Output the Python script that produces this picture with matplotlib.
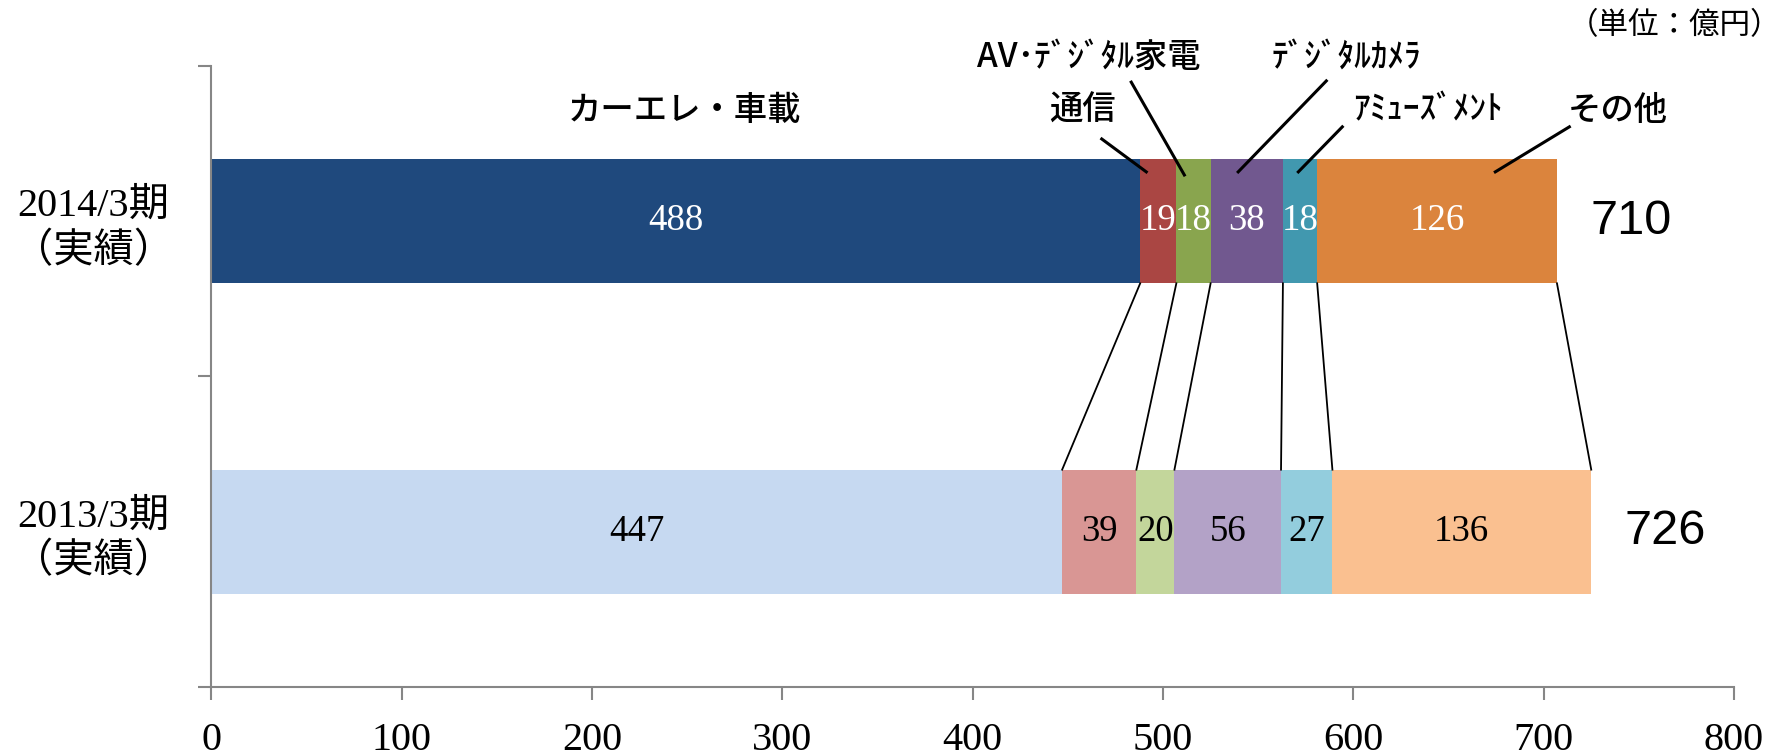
import numpy as np
import matplotlib
matplotlib.use("Agg")
import matplotlib.pyplot as plt

# data (unit: 100 million yen)
periods = ['2013/3期\n（実績）', '2014/3期\n（実績）']
segments = ['カーエレ・車載', '通信', 'AV･ﾃﾞｼﾞﾀﾙ家電', 'ﾃﾞｼﾞﾀﾙｶﾒﾗ', 'ｱﾐｭｰｽﾞﾒﾝﾄ', 'その他']
sales_2013 = [447, 39, 20, 56, 27, 136]
sales_2014 = [488, 19, 18, 38, 18, 126]
totals = [726, 710]

colors_2014 = ['#1F497D', '#AA4643', '#89A54E', '#71588F', '#4198AF', '#DB843D']
colors_2013 = ['#C6D9F1', '#D99694', '#C3D69B', '#B3A2C7', '#93CDDD', '#FAC090']

serif = ['Liberation Serif', 'Noto Sans CJK JP']
gothic = ['Noto Sans CJK JP', 'DejaVu Sans']
axis_gray = '#868686'

fig = plt.figure(figsize=(17.83, 7.56), dpi=100)
ax = fig.add_axes([0.1186, 0.0913, 0.8539, 0.8214])

bar_h = 0.4
rows = [(sales_2013, colors_2013, 'black'), (sales_2014, colors_2014, 'white')]
for y, (vals, cols, txt_color) in enumerate(rows):
    left = 0
    for v, c in zip(vals, cols):
        bars = ax.barh(y, v, left=left, height=bar_h, color=c)
        ax.bar_label(bars, labels=[str(v)], label_type='center', color=txt_color,
                     fontsize=26.5, family=serif)
        left += v
    ax.annotate(str(totals[y]), xy=(left, y), xytext=(24, 0), textcoords='offset points',
                ha='left', va='center', fontsize=35, family='Liberation Sans')

# lines joining the segment edges of the two bars
edges_2013 = np.cumsum(sales_2013)
edges_2014 = np.cumsum(sales_2014)
for a, b in zip(edges_2014, edges_2013):
    ax.plot([a, b], [1 - bar_h / 2, bar_h / 2], color='black', lw=1.3)

# segment names with leader lines (layout only)
callouts = [
    ((248.8, 1.358), None),
    ((457.6, 1.358), ((467.8, 1.265), (491.2, 1.159))),
    ((461.2, 1.527), ((483.3, 1.448), (511.2, 1.149))),
    ((596.3, 1.529), ((585.8, 1.452), (539.5, 1.159))),
    ((639.4, 1.358), ((594.2, 1.304), (571.1, 1.159))),
    ((739.2, 1.358), ((713.5, 1.304), (674.6, 1.159))),
]
for name, (pos, leader) in zip(segments, callouts):
    ax.text(pos[0], pos[1], name, ha='center', va='center', fontsize=24,
            family=gothic, weight='medium', clip_on=False)
    if leader:
        (x0, y0), (x1, y1) = leader
        ax.plot([x0, x1], [y0, y1], color='black', lw=2.2, clip_on=False)

ax.set_xlim(0, 800)
ax.set_ylim(-0.5, 1.5)
ax.set_xticks(range(0, 801, 100))
ax.set_xticklabels([str(t) for t in range(0, 801, 100)], fontsize=29, family=serif)
ax.set_yticks([0, 1])
ax.set_yticklabels(periods, fontsize=29, family=serif, linespacing=1.25)
for lab in ax.get_yticklabels():
    lab.set_horizontalalignment('center')
    lab.set_multialignment('center')
ax.set_yticks([-0.5, 0.5, 1.5], minor=True)

ax.tick_params(axis='x', length=9.5, width=1.5, color=axis_gray, pad=16)
ax.tick_params(axis='y', which='major', length=0, pad=85)
ax.tick_params(axis='y', which='minor', length=9.5, width=1.5, color=axis_gray)

for side in ['top', 'right']:
    ax.spines[side].set_visible(False)
for side in ['left', 'bottom']:
    ax.spines[side].set_color(axis_gray)
    ax.spines[side].set_linewidth(1.5)

fig.text(0.939, 0.966, '（単位：億円）', ha='center', va='center', fontsize=22,
         family=gothic)

fig.savefig('out.png', dpi=100)
